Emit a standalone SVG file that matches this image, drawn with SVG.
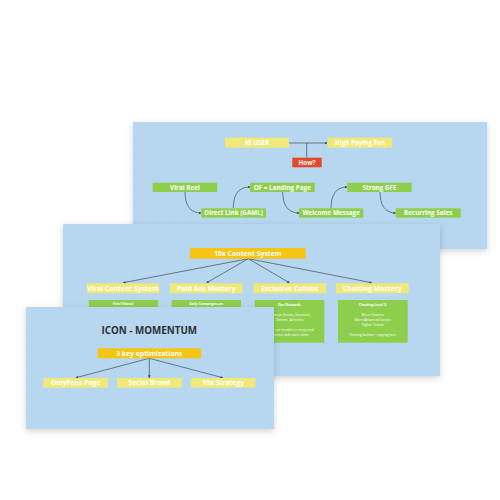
<svg xmlns="http://www.w3.org/2000/svg" width="500" height="500" viewBox="0 0 500 500">
<defs>
<filter id="sh" x="-10%" y="-10%" width="120%" height="130%"><feDropShadow dx="0" dy="2" stdDeviation="3" flood-color="#000" flood-opacity="0.18"/></filter>
<pattern id="grid" width="16" height="16" patternUnits="userSpaceOnUse"><path d="M16 0H0V16" fill="none" stroke="#c0dcf1" stroke-width="0.5"/></pattern>
<marker id="ar" viewBox="0 0 6 6" refX="5" refY="3" markerWidth="4" markerHeight="4" orient="auto"><path d="M0 0L6 3L0 6z" fill="#3f4a55"/></marker>
<style>
.pn{fill:#b6d7ef}
.gr{fill:url(#grid)}
.y{fill:#f0e97a}
.g{fill:#8dcf4c}
.o{fill:#f6c514}
.r{fill:#e8452a}
.t{font-family:"Open Sans","DejaVu Sans",sans-serif;font-weight:700;fill:#fff;text-anchor:middle}
.s{font-size:6.3px}
.m{font-size:6.8px}
.sm{font-family:"Open Sans","DejaVu Sans",sans-serif;fill:#fff;text-anchor:middle;font-size:3.4px}
.b{font-weight:700}
.ln{fill:none;stroke:#3f4a55;stroke-width:0.7}
.h{font-family:"Open Sans","DejaVu Sans",sans-serif;font-weight:700;fill:#2b2f33;text-anchor:middle;font-size:9.8px}
</style>
</defs>
<rect width="500" height="500" fill="#fff"/>

<!-- Panel 1 -->
<g id="panel1">
<rect x="133" y="122" width="354" height="127" class="pn" filter="url(#sh)"/>
<rect x="133" y="122" width="354" height="127" class="gr"/>
</g>
<g id="connectors1">
<path class="ln" d="M289 143H327" marker-end="url(#ar)"/>
<path class="ln" d="M306.7 143V157.5"/>
<path class="ln" d="M185 192C185 205 190 213 201 213" marker-end="url(#ar)"/>
<path class="ln" d="M233.3 208.3C233.3 195 238 187 250 187" marker-end="url(#ar)"/>
<path class="ln" d="M282.7 192C282.7 205 288 213 299 213" marker-end="url(#ar)"/>
<path class="ln" d="M331 208.3C331 195 336 187 347 187" marker-end="url(#ar)"/>
<path class="ln" d="M380 192C380 205 385 213 395.7 213" marker-end="url(#ar)"/>
</g>
<g id="ig-user"><rect x="225" y="137.7" width="64" height="10" class="y"/><text x="257" y="144.9" class="t s">IG USER</text></g>
<g id="high-paying-fan"><rect x="327.7" y="137.7" width="64.6" height="10" class="y"/><text x="360" y="144.9" class="t s">High Paying Fan</text></g>
<g id="how"><rect x="292.3" y="157.7" width="29.4" height="9.6" class="r"/><text x="307" y="164.7" class="t s">How?</text></g>
<g id="viral-reel"><rect x="152.7" y="182.7" width="64.6" height="9.3" class="g"/><text x="185" y="189.7" class="t s">Viral Reel</text></g>
<g id="of-landing"><rect x="250" y="182.7" width="64.7" height="9.3" class="g"/><text x="282.3" y="189.7" class="t s">OF = Landing Page</text></g>
<g id="strong-gfe"><rect x="347.3" y="182.7" width="64.4" height="9.3" class="g"/><text x="379.5" y="189.7" class="t s">Strong GFE</text></g>
<g id="direct-link"><rect x="201.3" y="208.3" width="64.7" height="9.4" class="g"/><text x="233.6" y="215.3" class="t s">Direct Link (GAML)</text></g>
<g id="welcome"><rect x="299" y="208.3" width="64.3" height="9.4" class="g"/><text x="331.2" y="215.3" class="t s">Welcome Message</text></g>
<g id="recurring"><rect x="395.7" y="208.3" width="65" height="9.4" class="g"/><text x="428.2" y="215.3" class="t s">Recurring Sales</text></g>

<!-- Panel 2 -->
<g id="panel2">
<rect x="63" y="224" width="377" height="152" class="pn" filter="url(#sh)"/>
<rect x="63" y="224" width="377" height="152" class="gr"/>
</g>
<g id="connectors2">
<path class="ln" d="M248.3 258.7L123.3 282.7" marker-end="url(#ar)"/>
<path class="ln" d="M248.3 258.7L206.7 282.7" marker-end="url(#ar)"/>
<path class="ln" d="M248.3 258.7L289.3 282.7" marker-end="url(#ar)"/>
<path class="ln" d="M248.3 258.7L371.7 282.7" marker-end="url(#ar)"/>
</g>
<g id="content-system"><rect x="190" y="248" width="115.7" height="10.7" class="o"/><text x="247.8" y="256" class="t m">10x Content System</text></g>
<g id="viral-content"><rect x="86.7" y="283.3" width="72.6" height="10" class="y"/><text x="123" y="290.8" class="t m">Viral Content System</text>
<rect x="88.7" y="300" width="69.3" height="42.7" class="g"/><text x="123.3" y="304.5" class="sm b">Viral Videos!</text></g>
<g id="paid-ads"><rect x="170" y="283.3" width="72.7" height="10" class="y"/><text x="206.3" y="290.8" class="t m">Paid Ads Mastery</text>
<rect x="171.7" y="300" width="69.3" height="42.7" class="g"/><text x="206.3" y="304.5" class="sm b">Daily Campaigns on:</text></g>
<g id="collabs"><rect x="253.3" y="283.3" width="72.7" height="10" class="y"/><text x="289.6" y="290.8" class="t m">Exclusive Collabs</text>
<rect x="254.7" y="300" width="69.6" height="42.7" class="g"/>
<text x="289.5" y="305.5" class="sm b">Our Network:</text>
<text x="289.5" y="315.5" class="sm">Organize Events, Vacations,</text>
<text x="289.5" y="320.5" class="sm">Dinners, Activities</text>
<text x="289.5" y="330.5" class="sm">Allow our models to enjoy and</text>
<text x="289.5" y="335.5" class="sm">connect with each other</text></g>
<g id="chatting"><rect x="336" y="283.3" width="72.7" height="10" class="y"/><text x="372.3" y="290.8" class="t m">Chatting Mastery</text>
<rect x="338" y="300" width="69.7" height="42.7" class="g"/>
<text x="372.8" y="305.5" class="sm b">Chatting Level 2:</text>
<text x="372.8" y="315.5" class="sm">More Chatters</text>
<text x="372.8" y="320.5" class="sm">More Advanced Scripts</text>
<text x="372.8" y="325.5" class="sm">Higher Tickets</text>
<text x="372.8" y="335.5" class="sm">Turning lookies → paying fans</text></g>

<!-- Panel 3 -->
<g id="panel3">
<rect x="26" y="307" width="248" height="122" class="pn" filter="url(#sh)"/>
<rect x="26" y="307" width="248" height="122" class="gr"/>
<text x="149.3" y="334" class="h">ICON - MOMENTUM</text>
</g>
<g id="connectors3">
<path class="ln" d="M149.3 358.3L76 377.7" marker-end="url(#ar)"/>
<path class="ln" d="M149.3 358.3L149.3 377.7" marker-end="url(#ar)"/>
<path class="ln" d="M149.3 358.3L222.7 377.7" marker-end="url(#ar)"/>
</g>
<g id="key-opt"><rect x="97.7" y="348.3" width="103.3" height="10" class="o"/><text x="149.3" y="355.8" class="t m">3 key optimizations</text></g>
<g id="onlyfans"><rect x="43.3" y="378" width="64.7" height="9.7" class="y"/><text x="75.7" y="385.3" class="t m">OnlyFans Page</text></g>
<g id="social"><rect x="117" y="378" width="64.7" height="9.7" class="y"/><text x="149.3" y="385.3" class="t m">Social Brand</text></g>
<g id="strategy"><rect x="190.7" y="378" width="64.6" height="9.7" class="y"/><text x="223" y="385.3" class="t m">10x Strategy</text></g>
</svg>
